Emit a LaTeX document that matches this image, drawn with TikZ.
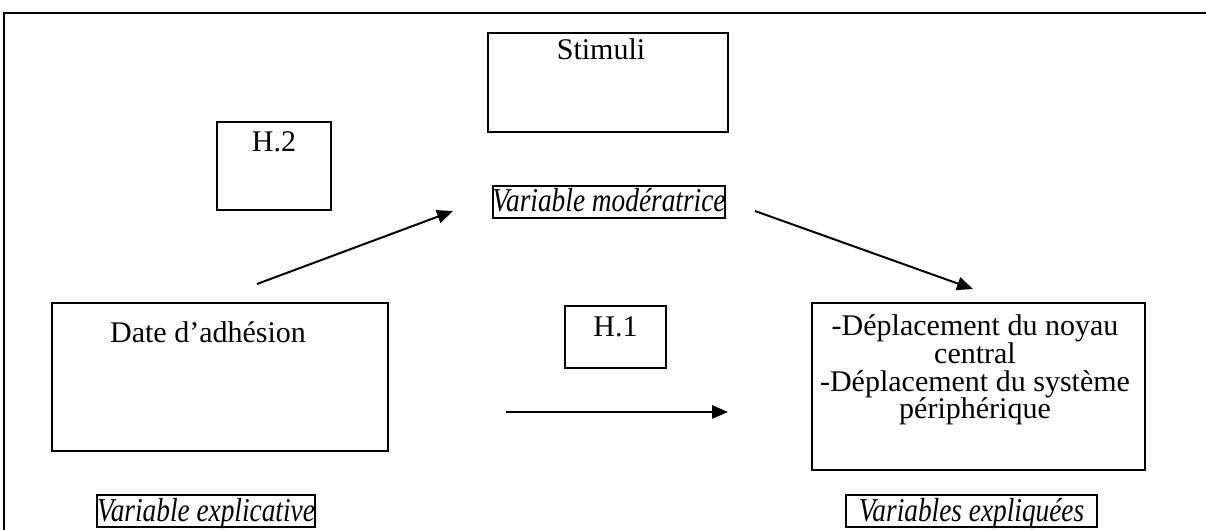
\documentclass[tikz,border=0pt]{standalone}
\usepackage{fontspec}
\setmainfont{Liberation Serif}
\usetikzlibrary{arrows.meta}
\tikzset{every picture/.style={line width=0.75pt}}
\newcommand{\tall}[1]{\scalebox{1}[1.22]{#1}}

\begin{document}
\begin{tikzpicture}[x=0.75pt,y=0.75pt,yscale=-1,xscale=1,
  txt/.style={anchor=base,inner sep=0.75pt,font=\fontsize{22.5}{27}\selectfont},
  lbl/.style={anchor=base,inner sep=0.75pt,font=\fontsize{20.5}{24}\selectfont\itshape},
  fleche/.style={-{Triangle[length=12pt,width=10pt]},line width=1.5pt}]
\useasboundingbox (0,0) rectangle (1206,530);

%Frame
\draw [line width=2.2pt] (4,532) -- (4,13) -- (1208,13) ;

%Shape: Rectangle [Stimuli]
\draw [line width=1.1pt] (488,33) rectangle (728,132) ;
%Shape: Rectangle [H.2]
\draw [line width=1.1pt] (217,122) rectangle (331,210) ;
%Shape: Rectangle [Date]
\draw [line width=1.1pt] (52,303) rectangle (388,451) ;
%Shape: Rectangle [H.1]
\draw [line width=1.1pt] (565,306) rectangle (666,368) ;
%Shape: Rectangle [Deplacement]
\draw [line width=1.1pt] (812,303) rectangle (1145,470) ;
%Shape: Rectangle [labels]
\draw [line width=1.5pt] (493,186) rectangle (725,218) ;
\draw [line width=1.5pt] (97,495) rectangle (315,527) ;
\draw [line width=1.5pt] (846,495) rectangle (1097,527) ;

%Arrows
\coordinate (a1) at (257,284) ; \coordinate (a2) at (453,211) ;
\coordinate (b1) at (755,211) ; \coordinate (b2) at (973,289) ;
\coordinate (c1) at (506,412) ; \coordinate (c2) at (728,412) ;
\draw [fleche] (a1) -- (a2) ;
\draw [fleche] (b1) -- (b2) ;
\draw [fleche] (c1) -- (c2) ;

% Text Node
\node [txt] (stimuli) at (601,60) {Stimuli};
\node [txt] (h2) at (274,152) {H.2};
\node [txt] (date) at (208,343) {Date d’adhésion};
\node [txt] (h1) at (615.5,337) {H.1};
\node [txt] (dep1) at (975,336) {-Déplacement du noyau};
\node [txt] (dep2) at (975,363.5) {central};
\node [txt] (dep3) at (975,391.5) {-Déplacement du système};
\node [txt] (dep4) at (975,419) {périphérique};
% Labels
\node [lbl] (moder) at (609,212) {\tall{Variable modératrice}};
\node [lbl] (explic) at (206,521) {\tall{Variable explicative}};
\node [lbl] (expliq) at (971.5,521) {\tall{Variables expliquées}};

\end{tikzpicture}
\end{document}
